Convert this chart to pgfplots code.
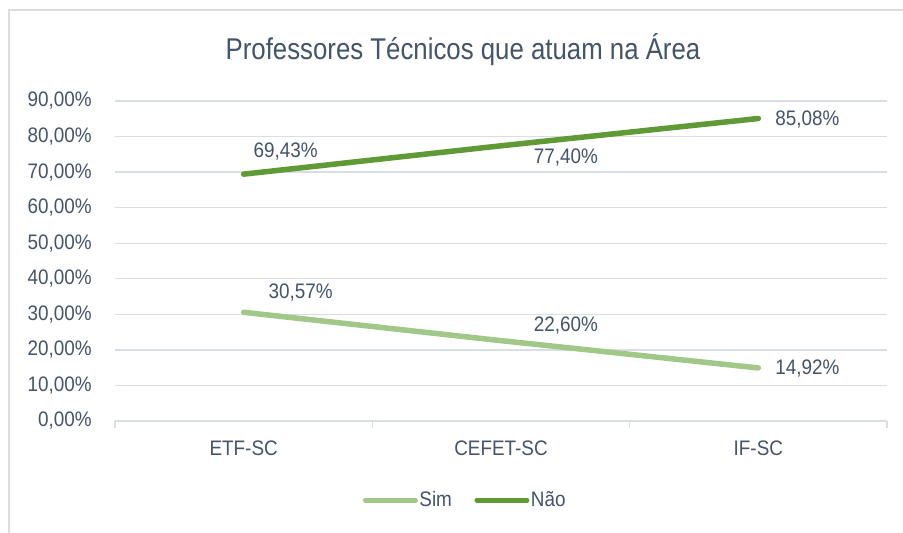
\documentclass[border=0pt]{standalone}
\usepackage{pgfplots}
\pgfplotsset{compat=1.18}
\usepackage{fontspec}
\setmainfont[FakeStretch=0.9]{Liberation Sans}
\newfontfamily\titlefont[FakeStretch=0.86]{Liberation Sans}
\definecolor{txt}{HTML}{44546A}
\definecolor{grd}{HTML}{D9DEE5}
\definecolor{sim}{HTML}{A2C889}
\definecolor{nao}{HTML}{5F9A36}
\definecolor{brd}{HTML}{D9DDE3}
\newcommand{\lf}{\fontsize{21}{25}\selectfont}
\begin{document}
\begin{tikzpicture}[x=1pt,y=1pt]
\useasboundingbox (0,0) rectangle (903,533);
\fill[white] (0,0) rectangle (903,533);
\draw[brd, line width=1.2pt] (9,0) -- (9,523) -- (903,523);
\node[txt, font=\titlefont\fontsize{30}{36}\selectfont] at (463,483) {Professores Técnicos que atuam na Área};
\begin{axis}[
  at={(115pt,112pt)}, anchor=south west,
  scale only axis, width=772pt, height=320pt,
  xmin=-0.5, xmax=2.5, ymin=0, ymax=90,
  axis line style={draw=none},
  ymajorgrids, grid style={grd, line width=1.3pt},
  ytick={0,10,...,90},
  yticklabel={\pgfmathprintnumber[fixed,fixed zerofill,precision=2,use comma,assume math mode=true]{\tick}\%},
  yticklabel style={anchor=east, inner sep=0pt, xshift=-23pt, text=txt, font=\lf},
  xtick={0,1,2}, xticklabels={ETF-SC,CEFET-SC,IF-SC},
  xticklabel style={anchor=north, inner sep=0pt, yshift=-20pt, text=txt, font=\lf},
  major tick length=0pt, tick style={draw=none},
  clip=false,
  legend columns=-1,
  legend style={draw=none, fill=none, at={(0.4534,-0.2469)}, anchor=center,
    nodes={inner sep=1.5pt, text=txt, font=\lf},
    /tikz/every even column/.append style={column sep=21pt}},
  legend image code/.code={\draw[line width=5pt, line cap=round] (2.5pt,0pt) -- (52.5pt,0pt);},
]
\addplot[sim, line width=5.5pt, line cap=round, line join=round, mark=none] coordinates {(0,30.57) (1,22.60) (2,14.92)};
\addlegendentry{Sim}
\addplot[nao, line width=5.5pt, line cap=round, line join=round, mark=none] coordinates {(0,69.43) (1,77.40) (2,85.08)};
\addlegendentry{Não}
\draw[grd, line width=1.3pt] (axis cs:-0.5,0) -- ++(0pt,-7pt);
\draw[grd, line width=1.3pt] (axis cs:0.5,0) -- ++(0pt,-7pt);
\draw[grd, line width=1.3pt] (axis cs:1.5,0) -- ++(0pt,-7pt);
\draw[grd, line width=1.3pt] (axis cs:2.5,0) -- ++(0pt,-7pt);
\tikzset{lbl/.style={text=txt, font=\lf, inner sep=0pt}}
\node[lbl] at (axis cs:0,69.43) [xshift=42pt, yshift=23pt] {69,43\%};
\node[lbl] at (axis cs:1,77.40) [xshift=65pt, yshift=-12pt] {77,40\%};
\node[lbl] at (axis cs:2,85.08) [xshift=49pt, yshift=-1pt] {85,08\%};
\node[lbl] at (axis cs:0,30.57) [xshift=57pt, yshift=20pt] {30,57\%};
\node[lbl] at (axis cs:1,22.60) [xshift=65pt, yshift=15pt] {22,60\%};
\node[lbl] at (axis cs:2,14.92) [xshift=49pt, yshift=-1pt] {14,92\%};
\end{axis}
\end{tikzpicture}
\end{document}
